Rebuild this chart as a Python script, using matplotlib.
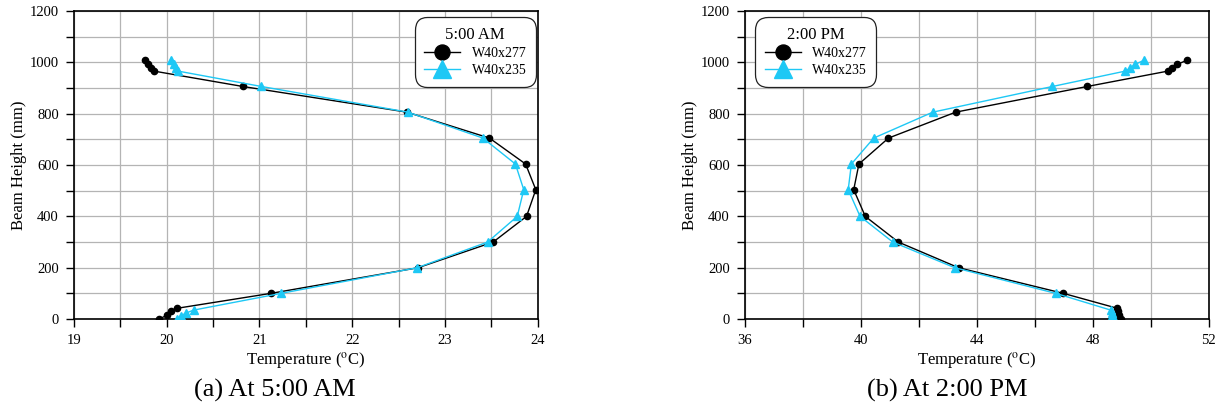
import matplotlib
matplotlib.use('Agg')
import matplotlib.pyplot as plt
from matplotlib.ticker import MultipleLocator

plt.rcParams['font.family'] = ['Liberation Serif', 'DejaVu Serif']
plt.rcParams['mathtext.fontset'] = 'stix'

# beam heights (mm)
h_277 = [0, 15, 30, 42, 100, 200, 300, 400, 504, 604, 705, 806, 906, 966, 979, 992, 1008]
h_235 = [0, 12, 24, 35, 100, 200, 300, 400, 504, 604, 705, 806, 906, 966, 979, 992, 1008]

# temperatures at 5:00 AM
t_am_277 = [19.92, 20.00, 20.05, 20.11, 21.12, 22.71, 23.52, 23.88, 23.98, 23.87, 23.48,
            22.59, 20.82, 19.86, 19.83, 19.80, 19.77]
t_am_235 = [20.11, 20.15, 20.21, 20.29, 21.23, 22.70, 23.46, 23.78, 23.85, 23.76, 23.41,
            22.60, 21.02, 20.12, 20.10, 20.08, 20.05]

# temperatures at 2:00 PM
t_pm_277 = [48.97, 48.92, 48.88, 48.85, 46.99, 43.37, 41.29, 40.15, 39.75, 39.93, 40.95,
            43.27, 47.81, 50.60, 50.74, 50.91, 51.25]
t_pm_235 = [48.72, 48.68, 48.65, 48.62, 46.73, 43.24, 41.10, 39.97, 39.56, 39.67, 40.44,
            42.48, 46.61, 49.13, 49.30, 49.47, 49.76]

panels = [
    dict(t277=t_am_277, t235=t_am_235, xlim=(19, 24), major=1, minor=0.5,
         title='5:00 AM', loc='upper right', anchor=(536 / 1220, 1 - 17 / 407),
         caption='(a) At 5:00 AM', cap_x=275 / 1220),
    dict(t277=t_pm_277, t235=t_pm_235, xlim=(36, 52), major=4, minor=2,
         title='2:00 PM', loc='upper left', anchor=(755 / 1220, 1 - 17 / 407),
         caption='(b) At 2:00 PM', cap_x=947 / 1220),
]

black = '#000000'
cyan = '#1EC8F5'

fig = plt.figure(figsize=(12.2, 4.07), dpi=100)
lefts = [0.0607, 0.6107]

for left, p in zip(lefts, panels):
    ax = fig.add_axes([left, 0.216, 0.380, 0.757])
    ax.plot(p['t277'], h_277, '-o', color=black, lw=1.0, ms=4.5, label='W40x277', zorder=3)
    ax.plot(p['t235'], h_235, '-^', color=cyan, lw=1.0, ms=5.5, label='W40x235', zorder=3)
    ax.set_xlim(*p['xlim'])
    ax.set_ylim(0, 1200)
    ax.xaxis.set_major_locator(MultipleLocator(p['major']))
    ax.xaxis.set_minor_locator(MultipleLocator(p['minor']))
    ax.yaxis.set_major_locator(MultipleLocator(200))
    ax.yaxis.set_minor_locator(MultipleLocator(100))
    ax.grid(True, which='both', color='#b4b4b4', lw=0.9)
    ax.set_axisbelow(True)
    ax.tick_params(which='both', direction='out', length=6, width=1, labelsize=10.5, pad=5)
    for s in ax.spines.values():
        s.set_linewidth(1.2)
    ax.set_xlabel('Temperature ($^{\\mathrm{o}}$C)', fontsize=12, labelpad=2)
    ax.set_ylabel('Beam Height (mm)', fontsize=12, labelpad=2)
    leg = ax.legend(title=p['title'], loc=p['loc'], bbox_to_anchor=p['anchor'],
                    bbox_transform=fig.transFigure, borderaxespad=0,
                    fontsize=10, title_fontsize=12,
                    markerscale=2.4, fancybox=True, framealpha=1, edgecolor='#222222',
                    handlelength=2.6, borderpad=0.7, labelspacing=0.3, handletextpad=0.8)
    leg.get_frame().set_linewidth(0.9)
    leg.get_frame().set_boxstyle('round', pad=0, rounding_size=0.9)
    fig.text(p['cap_x'], 0.040, p['caption'], ha='center', va='center', fontsize=19)

fig.savefig('out.png', dpi=100)
